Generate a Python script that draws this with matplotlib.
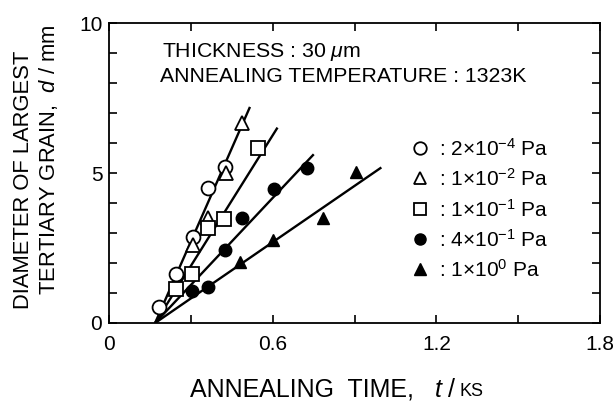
import matplotlib
matplotlib.use("Agg")
import matplotlib.pyplot as plt

plt.rcParams['font.family'] = ['Liberation Sans', 'DejaVu Sans']
plt.rcParams['mathtext.fontset'] = 'custom'
plt.rcParams['mathtext.rm'] = 'Liberation Sans'
plt.rcParams['mathtext.it'] = 'Liberation Sans:italic'

# ---- data ----
t_2e4 = [0.183, 0.244, 0.306, 0.363, 0.424]
d_2e4 = [0.54, 1.63, 2.88, 4.49, 5.19]

t_1e2 = [0.306, 0.363, 0.428, 0.485]
d_1e2 = [2.60, 3.49, 5.01, 6.69]

t_1e1 = [0.244, 0.302, 0.363, 0.422, 0.546]
d_1e1 = [1.12, 1.63, 3.16, 3.46, 5.84]

t_4e1 = [0.302, 0.363, 0.424, 0.485, 0.604, 0.726]
d_4e1 = [1.07, 1.19, 2.43, 3.52, 4.47, 5.16]

t_1e0 = [0.479, 0.601, 0.785, 0.904]
d_1e0 = [2.04, 2.77, 3.49, 5.04]

fit_t = [[0.168, 0.516], [0.168, 0.617], [0.168, 0.750], [0.168, 0.998]]
fit_d = [[0.0, 7.21], [0.0, 6.52], [0.0, 5.63], [0.0, 5.19]]

legend_labels = [': 2×10$^{-4}$ Pa', ': 1×10$^{-2}$ Pa',
                 ': 1×10$^{-1}$ Pa', ': 4×10$^{-1}$ Pa',
                 ': 1×10$^{0}$ Pa']

xticks = [0, 0.3, 0.6, 0.9, 1.2, 1.5, 1.8]
xticklabels = ['0', '', '0.6', '', '1.2', '', '1.8']
yticks = list(range(0, 11))
yticklabels = ['0', '', '', '', '', '5', '', '', '', '', '10']

W, H = 616, 403
fig = plt.figure(figsize=(W / 100, H / 100), dpi=100)
ax_l, ax_r, ax_t, ax_b = 109.3, 600.0, 23.3, 323.0
ax = fig.add_axes([ax_l / W, 1 - ax_b / H, (ax_r - ax_l) / W, (ax_b - ax_t) / H])

for xs, ys in zip(fit_t, fit_d):
    ax.plot(xs, ys, color='black', lw=1.7, zorder=2, solid_capstyle='butt')

ms = 10
styles = [
    dict(marker='o', ms=ms, mfc='white', mec='black', mew=1.3),
    dict(marker='^', ms=ms, mfc='white', mec='black', mew=1.3),
    dict(marker='s', ms=ms - 0.5, mfc='white', mec='black', mew=1.3),
    dict(marker='o', ms=ms - 1, mfc='black', mec='black', mew=1.0),
    dict(marker='^', ms=ms - 1, mfc='black', mec='black', mew=1.0),
]
series = [(t_2e4, d_2e4), (t_1e2, d_1e2), (t_1e1, d_1e1), (t_4e1, d_4e1), (t_1e0, d_1e0)]
for (xs, ys), st in zip(series, styles):
    ax.plot(xs, ys, ls='none', zorder=3, **st)

ax.set_xlim(0, 1.8)
ax.set_ylim(0, 10)
ax.set_xticks(xticks)
ax.set_xticklabels(xticklabels)
ax.set_yticks(yticks)
ax.set_yticklabels(yticklabels)
ax.tick_params(direction='in', top=True, right=True, length=6, width=1.2,
               labelsize=15)
ax.tick_params(axis='x', pad=9)
ax.tick_params(axis='y', pad=5)
for s in ax.spines.values():
    s.set_linewidth(1.3)

# annotations
def px2ax(px, py):
    return ((px - ax_l) / (ax_r - ax_l), (ax_b - py) / (ax_b - ax_t))

ax.text(*px2ax(162, 52), r'THICKNESS : 30 $\mu$m', fontsize=15.3, va='center',
        transform=ax.transAxes)
ax.text(*px2ax(160, 77), 'ANNEALING TEMPERATURE : 1323K', fontsize=15.3,
        va='center', transform=ax.transAxes)

# legend (manual)
rows_py = [148, 178, 208.5, 239, 268.5]
for st, lab, py in zip(styles, legend_labels, rows_py):
    st2 = dict(st)
    st2['ms'] = st['ms'] - 1
    ax.plot([px2ax(420, py)[0]], [px2ax(420, py)[1]], ls='none',
            transform=ax.transAxes, clip_on=False, **st2)
    ax.text(*px2ax(439, py + 1), lab, fontsize=15, va='center',
            transform=ax.transAxes)

# y label (two lines)
fig.text(24 / W, 1 - 180 / H, 'DIAMETER OF LARGEST', rotation=90,
         fontsize=15.8, ha='center', va='center')
fig.text(49 / W, 1 - 160 / H, 'TERTIARY GRAIN,  $\\mathit{d}$ / mm', rotation=90,
         fontsize=15.8, ha='center', va='center')

# x label
fig.text(190 / W, 1 - 390 / H, 'ANNEALING  TIME,', fontsize=18,
         ha='left', va='center')
t2 = fig.text(434 / W, 1 - 390 / H, r'$\mathit{t}$ /', fontsize=18,
              ha='left', va='center')
fig.canvas.draw()
bb = t2.get_window_extent(fig.canvas.get_renderer())
fig.text(bb.x1 / W + 3 / W, 1 - 391 / H, 'KS', fontsize=13, ha='left',
         va='center')

fig.savefig('out.png', dpi=100)
